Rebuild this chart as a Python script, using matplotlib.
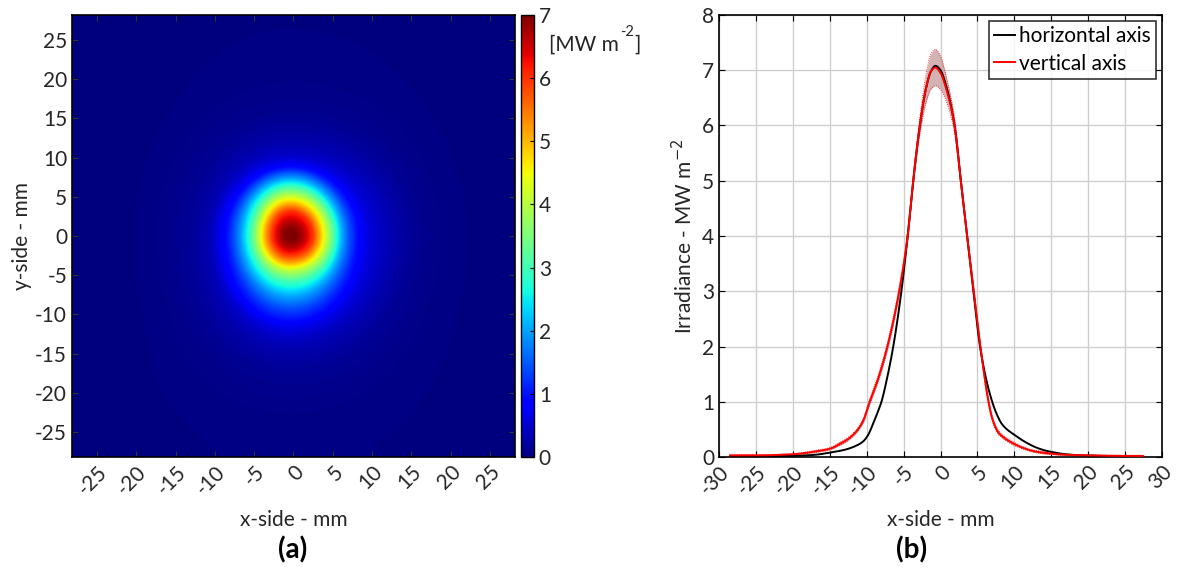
import numpy as np
import matplotlib
matplotlib.use('Agg')
import matplotlib.pyplot as plt
from matplotlib import rcParams

rcParams.update({
    "font.family": ['Lato', 'DejaVu Sans'],
    "axes.unicode_minus": False,
    "font.size": 15,
})

# horizontal profile (black), x in mm, irradiance in MW m^-2
horiz_x = [-28.5, -25, -20, -17, -15, -13, -11.5, -10.5, -9.8, -9.2, -8.6, -8.0, -7.2, -6.4,
           -5.3, -4.45, -3.7, -2.8, -2.0, -1.3, -0.7, 0.0, 0.8, 1.9, 2.75, 3.6, 4.45, 5.35,
           6.2, 7.0, 7.6, 8.3, 9.0, 9.8, 11.5, 13, 14.4, 17, 19, 22, 25, 27.4]
horiz_v = [0.01, 0.01, 0.02, 0.04, 0.08, 0.13, 0.2, 0.28, 0.4, 0.58, 0.78, 1.0, 1.45, 2.0,
           3.0, 4.0, 5.0, 6.0, 6.65, 6.98, 7.08, 7.0, 6.7, 6.0, 5.0, 4.0, 3.0, 2.0,
           1.4, 1.0, 0.78, 0.6, 0.5, 0.42, 0.27, 0.17, 0.11, 0.05, 0.03, 0.02, 0.01, 0.01]

# vertical profile (red) with its spread
vert_x = [-28.5, -25, -20, -17, -15, -13.5, -12.7, -11.5, -10.5, -9.6, -8.5, -7.2, -5.6, -4.45,
          -3.7, -2.8, -2.0, -1.3, -0.7, 0.0, 0.8, 1.9, 2.75, 3.6, 4.5, 5.4, 6.5, 7.0, 7.8,
          8.5, 9.8, 11.5, 12.5, 14.4, 17, 20, 25, 27.4]
vert_v = [0.03, 0.03, 0.05, 0.1, 0.15, 0.25, 0.31, 0.45, 0.65, 1.0, 1.4, 2.0, 3.0, 4.0,
          5.0, 6.0, 6.65, 6.98, 7.05, 6.95, 6.65, 6.0, 5.0, 4.0, 3.0, 2.0, 1.0, 0.7, 0.45,
          0.36, 0.25, 0.15, 0.11, 0.07, 0.04, 0.03, 0.02, 0.02]
vert_err = [0.01, 0.01, 0.01, 0.02, 0.02, 0.03, 0.03, 0.03, 0.04, 0.05, 0.06, 0.07, 0.08, 0.09,
            0.1, 0.15, 0.25, 0.32, 0.33, 0.3, 0.22, 0.14, 0.1, 0.09, 0.08, 0.07, 0.06, 0.05, 0.04,
            0.03, 0.03, 0.02, 0.02, 0.02, 0.01, 0.01, 0.01, 0.01]

horiz_peak = -0.7
vert_peak = -0.7
spot_center = (-0.4, 0.0)
spot_stretch = (1.1, 1.2)   # map spot looks a bit larger than the line cuts

xticks_a = [-25, -20, -15, -10, -5, 0, 5, 10, 15, 20, 25]
xticks_b = [-30, -25, -20, -15, -10, -5, 0, 5, 10, 15, 20, 25, 30]
txt = '#262626'


def pchip(x, y, xn):
    # monotone cubic through the read points, just to draw smooth curves
    x = np.asarray(x, float)
    y = np.asarray(y, float)
    hh = np.diff(x)
    d = np.diff(y) / hh
    m = np.zeros_like(y)
    for k in range(1, len(x) - 1):
        if d[k - 1] * d[k] > 0:
            w1 = 2 * hh[k] + hh[k - 1]
            w2 = hh[k] + 2 * hh[k - 1]
            m[k] = (w1 + w2) / (w1 / d[k - 1] + w2 / d[k])
    m[0], m[-1] = d[0], d[-1]
    i = np.clip(np.searchsorted(x, xn) - 1, 0, len(x) - 2)
    t = (xn - x[i]) / hh[i]
    h00 = 2 * t**3 - 3 * t**2 + 1
    h10 = t**3 - 2 * t**2 + t
    h01 = -2 * t**3 + 3 * t**2
    h11 = t**3 - t**2
    return h00 * y[i] + h10 * hh[i] * m[i] + h01 * y[i + 1] + h11 * hh[i] * m[i + 1]


fig = plt.figure(figsize=(11.78, 5.83), dpi=100)

# ---- (a) irradiance map built from the two measured profiles
ax1 = fig.add_axes([0.0611, 0.2161, 0.376, 0.7582])
g = np.arange(-28.2, 28.21, 0.2)
X, Y = np.meshgrid(g, g)
dx = (X - spot_center[0]) / spot_stretch[0]
dy = (Y - spot_center[1]) / spot_stretch[1]
r = np.hypot(dx, dy)
c2 = np.where(r > 0, dx**2 / np.maximum(r, 1e-9)**2, 0.5)
h = np.interp(horiz_peak + np.sign(dx) * r, horiz_x, horiz_v)
v = np.interp(vert_peak + np.sign(dy) * r, vert_x, vert_v)
Z = c2 * h + (1 - c2) * v
im = ax1.imshow(Z, extent=[-28.2, 28.2, -28.2, 28.2], origin='lower', cmap='jet',
                vmin=0, vmax=7, aspect='auto', interpolation='bilinear')
ax1.set_xticks(xticks_a)
ax1.set_yticks(xticks_a)
ax1.set_xticklabels([str(t) for t in xticks_a], rotation=45, ha='right', va='top',
                    rotation_mode='anchor')
ax1.tick_params(direction='in', top=True, right=True, length=4, color='#333333',
                labelcolor=txt)
ax1.set_xlabel('x-side - mm', color=txt, labelpad=8)
ax1.set_ylabel('y-side - mm', color=txt, labelpad=2)
for s in ax1.spines.values():
    s.set_linewidth(1.2)

cax = fig.add_axes([0.4423, 0.2161, 0.011, 0.7582])
cb = fig.colorbar(im, cax=cax, ticks=range(0, 8))
cb.ax.tick_params(direction='in', length=3, labelcolor=txt)
cb.outline.set_linewidth(1.0)

# unit label with a plain hyphen in the exponent, placed piece by piece
t1 = fig.text(0.466, 0.923, '[MW m', fontsize=15, color=txt, va='center')
fig.canvas.draw()
ren = fig.canvas.get_renderer()
bb = t1.get_window_extent(ren)
x2 = (bb.x1 + 1) / fig.bbox.width
t2 = fig.text(x2, 0.945, '-2', fontsize=10.5, color=txt, va='center')
bb2 = t2.get_window_extent(ren)
fig.text((bb2.x1 + 1) / fig.bbox.width, 0.923, ']', fontsize=15, color=txt, va='center')

# ---- (b) profiles
ax2 = fig.add_axes([0.6104, 0.2161, 0.376, 0.7582])
xs_h = np.linspace(horiz_x[0], horiz_x[-1], 600)
xs_v = np.linspace(vert_x[0], vert_x[-1], 600)
lo = pchip(vert_x, np.array(vert_v) - np.array(vert_err), xs_v)
hi = pchip(vert_x, np.array(vert_v) + np.array(vert_err), xs_v)
ax2.fill_between(xs_v, lo, hi, color='#c9a0a0', alpha=0.8, lw=0, zorder=2)
ax2.plot(xs_v, lo, color='red', lw=0.6, ls=':', zorder=2)
ax2.plot(xs_v, hi, color='red', lw=0.6, ls=':', zorder=2)
ax2.plot(xs_h, pchip(horiz_x, horiz_v, xs_h), color='black', lw=1.4,
         label='horizontal axis', zorder=3)
ax2.plot(xs_v, pchip(vert_x, vert_v, xs_v), color='red', lw=1.4,
         label='vertical axis', zorder=4)
ax2.set_xlim(-30, 30)
ax2.set_ylim(0, 8)
ax2.set_xticks(xticks_b)
ax2.set_yticks(range(0, 9))
ax2.set_xticklabels([str(t) for t in xticks_b], rotation=45, ha='right', va='top',
                    rotation_mode='anchor')
ax2.grid(True, color='#cfcfcf', lw=1.0)
ax2.set_axisbelow(True)
ax2.tick_params(direction='in', top=True, right=True, length=4, labelcolor=txt)
ax2.set_xlabel('x-side - mm', color=txt, labelpad=8)
ax2.set_ylabel('Irradiance - MW m$^{-2}$', color=txt)
for s in ax2.spines.values():
    s.set_linewidth(1.2)
leg = ax2.legend(loc='upper right', fancybox=False, edgecolor='black', fontsize=15,
                 handlelength=1.0, handletextpad=0.2, borderpad=0.25, labelspacing=0.35,
                 borderaxespad=0.3)
leg.get_frame().set_linewidth(1.2)

fig.text(0.248, 0.057, '(a)', fontsize=20, fontweight='bold', ha='center', va='center')
fig.text(0.774, 0.057, '(b)', fontsize=20, fontweight='bold', ha='center', va='center')

fig.savefig('out.png', dpi=100)
